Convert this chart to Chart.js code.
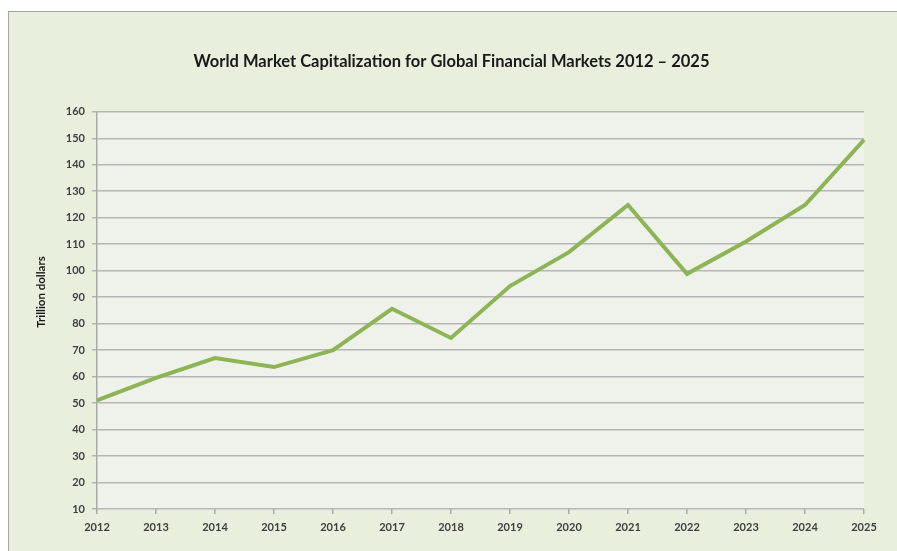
<!DOCTYPE html>
<html>
<head>
<meta charset="utf-8">
<script src="https://cdn.jsdelivr.net/npm/chart.js@4"></script>
<style>
  html, body { margin: 0; padding: 0; background: #ffffff; }
  #wrap { width: 897px; height: 551px; }
</style>
</head>
<body>
<div id="wrap"><canvas id="chart" width="897" height="551"></canvas></div>
<script>
const years = ['2012', '2013', '2014', '2015', '2016', '2017', '2018', '2019', '2020', '2021', '2022', '2023', '2024', '2025'];
const marketCap = [51, 59.5, 67, 63.6, 70, 85.6, 74.6, 94.2, 107, 124.8, 98.8, 111, 124.8, 149.4];
const chartTitle = 'World Market Capitalization for Global Financial Markets 2012 \u2013 2025';
const yAxisTitle = 'Trillion dollars';

// Frame and plot-area backgrounds
const backgroundPlugin = {
    id: 'backgrounds',
    beforeDraw(chart) {
        const ctx = chart.ctx;
        const area = chart.chartArea;
        ctx.save();
        ctx.fillStyle = '#ffffff';
        ctx.fillRect(0, 0, chart.width, chart.height);
        ctx.fillStyle = '#e9efdd';
        ctx.fillRect(8, 11, chart.width, chart.height);
        ctx.strokeStyle = '#a3a79c';
        ctx.lineWidth = 1;
        ctx.strokeRect(8.5, 11.5, chart.width + 10, chart.height + 10);
        ctx.fillStyle = '#eef2ea';
        ctx.fillRect(area.left, area.top, area.right - area.left, area.bottom - area.top);
        ctx.restore();
    },
    // y axis title, placed a bit above the middle like the original
    afterDraw(chart) {
        const ctx = chart.ctx;
        ctx.save();
        ctx.translate(41, 292);
        ctx.rotate(-Math.PI / 2);
        ctx.font = 'bold 11.5px Lato';
        ctx.fillStyle = '#1a1a1a';
        ctx.textAlign = 'center';
        ctx.textBaseline = 'middle';
        ctx.fillText(yAxisTitle, 0, 0);
        ctx.restore();
    }
};

const ctx = document.getElementById('chart').getContext('2d');
const capChart = new Chart(ctx, {
    type: 'line',
    data: {
        labels: years,
        datasets: [{
            data: marketCap,
            borderColor: '#8db556',
            borderWidth: 4,
            pointRadius: 0,
            tension: 0,
            fill: false
        }]
    },
    options: {
        responsive: false,
        animation: false,
        layout: {
            padding: { left: 39, top: 11, right: 33, bottom: 6 }
        },
        plugins: {
            legend: { display: false },
            tooltip: { enabled: false },
            title: {
                display: true,
                text: chartTitle,
                color: '#1a1a1a',
                font: { family: 'Lato', size: 16.5, weight: 'bold' },
                padding: { top: 41, bottom: 40 }
            }
        },
        scales: {
            x: {
                offset: false,
                grid: {
                    drawOnChartArea: false,
                    drawTicks: true,
                    tickLength: 5,
                    color: '#a9a9a9',
                    lineWidth: 1.5
                },
                border: { display: false },
                ticks: {
                    color: '#404040',
                    font: { family: 'Lato', size: 11, weight: 'bold' },
                    padding: 7,
                    maxRotation: 0,
                    autoSkip: false
                },
                afterFit(scale) { scale.height = 36; }
            },
            y: {
                min: 10,
                max: 160,
                ticks: {
                    stepSize: 10,
                    color: '#404040',
                    font: { family: 'Lato', size: 11, weight: 'bold' },
                    padding: 7
                },
                grid: {
                    color: '#b5b5b5',
                    lineWidth: 1.5,
                    tickLength: 5
                },
                border: { display: true, color: '#a9a9a9', width: 1.5 },
                afterFit(scale) { scale.width = 58; }
            }
        }
    },
    plugins: [backgroundPlugin]
});
</script>
</body>
</html>
